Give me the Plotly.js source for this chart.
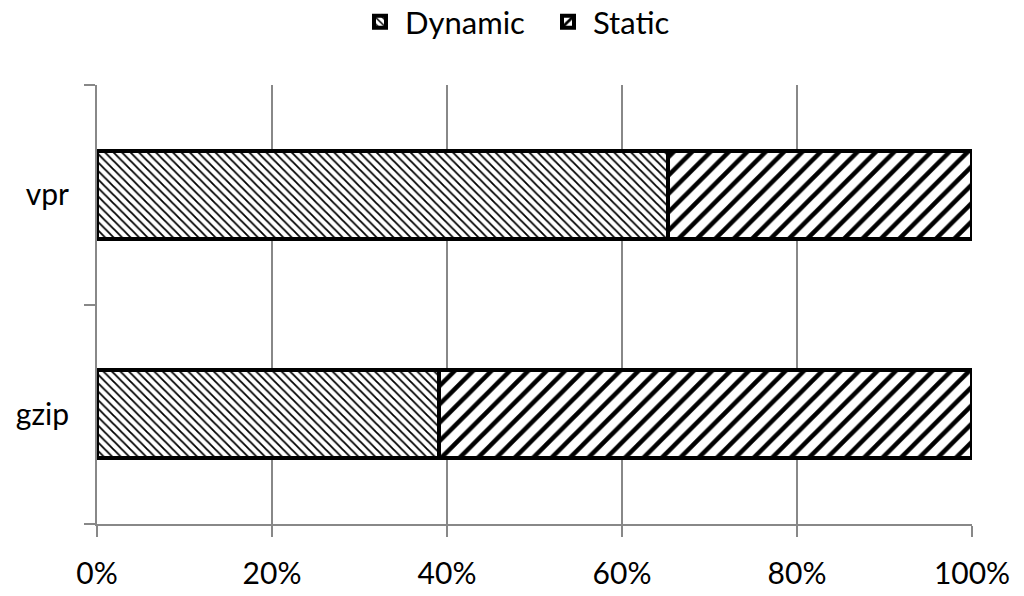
<!DOCTYPE html>
<html>
<head>
<meta charset="utf-8">
<script src="https://cdn.plot.ly/plotly-3.0.1.min.js"></script>
<style>html,body{margin:0;padding:0;background:#fff}</style>
</head>
<body>
<div id="chart" style="width:1024px;height:596px"></div>
<script>
const categories = ['gzip', 'vpr'];
const dynamicPct = [39.1, 65.3];
const staticPct = [60.9, 34.7];
const xTickVals = [0, 20, 40, 60, 80, 100];
const xTickText = ['0%', '20%', '40%', '60%', '80%', '100%'];

const fontFam = 'Lato, "Noto Sans", sans-serif';

const traces = [
  {
    type: 'bar', orientation: 'h', name: 'Dynamic',
    y: categories, x: dynamicPct, width: 0.4,
    marker: {
      color: 'white',
      line: {color: 'black', width: 4},
      pattern: {shape: '\\', fgcolor: 'black', bgcolor: 'white', size: 6, solidity: 0.3}
    },
    hoverinfo: 'x+name'
  },
  {
    type: 'bar', orientation: 'h', name: 'Static',
    y: categories, x: staticPct, width: 0.4,
    marker: {
      color: 'white',
      line: {color: 'black', width: 4},
      pattern: {shape: '/', fgcolor: 'black', bgcolor: 'white', size: 13, solidity: 0.35}
    },
    hoverinfo: 'x+name'
  }
];

const layout = {
  width: 1024, height: 596,
  margin: {l: 97, r: 52, t: 85, b: 72},
  paper_bgcolor: 'white', plot_bgcolor: 'white',
  barmode: 'stack',
  font: {family: fontFam, size: 30, color: 'black'},
  showlegend: true,
  legend: {
    orientation: 'h', xref: 'container', x: 355/1024, xanchor: 'left',
    yref: 'container', y: 1 - 22/596, yanchor: 'middle',
    font: {family: fontFam, size: 31, color: 'black'},
    traceorder: 'normal', itemwidth: 40,
    entrywidth: 133, entrywidthmode: 'pixels'
  },
  xaxis: {
    range: [0, 100], tickvals: xTickVals, ticktext: xTickText,
    showgrid: true, gridcolor: '#888888', gridwidth: 2,
    showline: true, linecolor: '#888888', linewidth: 2,
    ticks: 'outside', ticklen: 11, tickwidth: 2, tickcolor: '#888888',
    ticklabelstandoff: 11, zeroline: false, fixedrange: true
  },
  yaxis: {
    type: 'category', categoryorder: 'array', categoryarray: categories,
    range: [-0.5, 1.5], tickson: 'boundaries',
    showgrid: false,
    showline: true, linecolor: '#888888', linewidth: 2,
    ticks: 'outside', ticklen: 11, tickwidth: 2, tickcolor: '#888888',
    ticklabelstandoff: 20, zeroline: false, fixedrange: true
  }
};

Plotly.newPlot('chart', traces, layout, {displayModeBar: false, staticPlot: true});
</script>
</body>
</html>
